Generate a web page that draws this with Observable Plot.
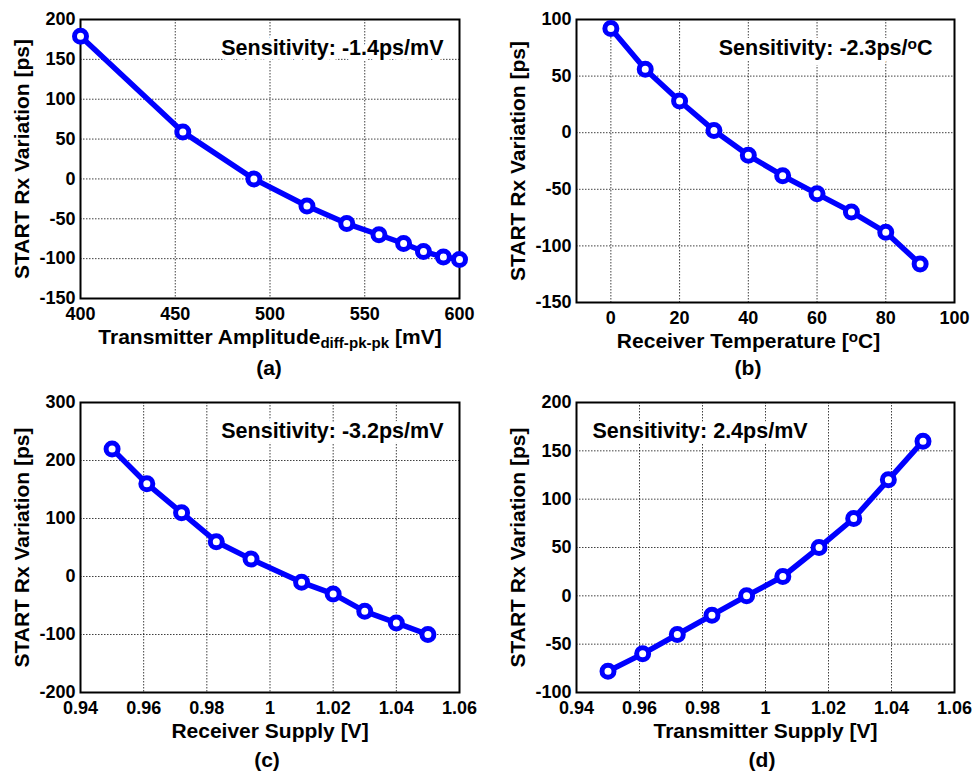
<!DOCTYPE html>
<html><head><meta charset="utf-8">
<script src="https://cdn.jsdelivr.net/npm/d3@7"></script>
<script src="https://cdn.jsdelivr.net/npm/@observablehq/plot@0.6"></script>
<style>
body{margin:0;background:#fff;}
#root{position:relative;width:973px;height:771px;font-family:"Liberation Sans",Arial,sans-serif;color:#000;}
.panel{position:absolute;}
.cap{position:absolute;font:bold 21px "Liberation Sans",Arial,sans-serif;transform:translate(-50%,-50%);white-space:nowrap;}
</style></head><body><div id="root"></div>
<script>
// ---- data ----
const ampX = [400, 454, 491.5, 519.5, 540.5, 557.5, 570.5, 581, 591.5, 600];
const ampY = [179, 59, 0, -34, -56, -70, -81, -91, -98, -101];
const tempX = [0, 10, 20, 30, 40, 50, 60, 70, 80, 90];
const tempY = [92, 56, 28, 2, -20, -38, -54, -70, -88, -116];
const rxSupplyX = [0.95, 0.961, 0.972, 0.983, 0.994, 1.01, 1.02, 1.03, 1.04, 1.05];
const rxSupplyY = [220, 160, 110, 60, 30, -10, -30, -60, -80, -100];
const txSupplyX = [0.95, 0.961, 0.972, 0.983, 0.994, 1.0055, 1.017, 1.028, 1.039, 1.05];
const txSupplyY = [-78, -60, -40, -20, 0, 20, 50, 80, 120, 160];

const ampTicks = [400, 450, 500, 550, 600];
const ampYTicks = [-150, -100, -50, 0, 50, 100, 150, 200];
const tempTicks = [0, 20, 40, 60, 80, 100];
const tempYTicks = [-150, -100, -50, 0, 50, 100];
const supplyTicks = [0.94, 0.96, 0.98, 1.00, 1.02, 1.04, 1.06];
const rxYTicks = [-200, -100, 0, 100, 200, 300];
const txYTicks = [-100, -50, 0, 50, 100, 150, 200];

const yTitle = "START Rx Variation [ps]";
const titles = ["Transmitter Amplitude_{diff-pk-pk} [mV]", "Receiver Temperature [^{o}C]", "Receiver Supply [V]", "Transmitter Supply [V]"];
const sensitivities = ["Sensitivity: -1.4ps/mV", "Sensitivity: -2.3ps/^{o}C", "Sensitivity: -3.2ps/mV", "Sensitivity: 2.4ps/mV"];
const captions = ["(a)", "(b)", "(c)", "(d)"];

const FONT = '"Liberation Sans", Arial, sans-serif';
const BLUE = "#0000ff";

function richify(svg) {
  d3.select(svg).selectAll("text").each(function () {
    const t = this.textContent;
    if (!/[\^_]\{/.test(t)) return;
    const parts = t.split(/([\^_]\{[^}]*\})/);
    const el = d3.select(this);
    el.text(null);
    for (const p of parts) {
      if (!p) continue;
      const m = p.match(/^([\^_])\{([^}]*)\}$/);
      if (m) el.append("tspan").attr("baseline-shift", m[1] === "^" ? "40%" : "-25%").attr("font-size", "72%").text(m[2]);
      else el.append("tspan").text(p);
    }
  });
}

function panel(o) {
  const data = o.xs.map((x, i) => ({x, y: o.ys[i]}));
  const textOpts = {frameAnchor: o.sensAnchor, dx: o.sensDx, dy: 20, text: d => d, fontSize: 21.5, fontWeight: "bold",
    textAnchor: o.sensAnchor === "top-left" ? "start" : "end"};
  const chart = Plot.plot({
    width: o.width, height: o.height,
    marginLeft: o.ml, marginRight: o.mr, marginTop: o.mt, marginBottom: o.mb,
    style: {fontFamily: FONT, fontSize: "18px", fontWeight: "bold", color: "#000", background: "transparent", overflow: "visible"},
    x: {domain: o.xDomain, ticks: o.xTicks, tickFormat: o.xFormat || (d => String(+d.toFixed(2))), tickSize: 0, tickPadding: 9,
        label: o.xLabel, labelAnchor: "center", labelOffset: 45, labelArrow: "none"},
    y: {domain: o.yDomain, ticks: o.yTicks, tickFormat: d => String(d), tickSize: 0, tickPadding: 5,
        label: yTitle, labelAnchor: "center", labelOffset: 66, labelArrow: "none"},
    marks: [
      Plot.gridX(o.xTicks, {stroke: "#000", strokeOpacity: 0.75, strokeWidth: 1, strokeDasharray: "1.5,1.5"}),
      Plot.gridY(o.yTicks, {stroke: "#000", strokeOpacity: 0.75, strokeWidth: 1, strokeDasharray: "1.5,1.5"}),
      Plot.text([o.sens], {...textOpts, fill: "#fff", stroke: "#fff", strokeWidth: 10}),
      Plot.text([o.sens], {...textOpts, fill: "#000"}),
      Plot.frame({stroke: "#000", strokeWidth: 2}),
      Plot.line(data, {x: "x", y: "y", stroke: BLUE, strokeWidth: 5.5, strokeLinejoin: "round"}),
      Plot.dot(data, {x: "x", y: "y", r: 6, fill: "#fff", stroke: BLUE, strokeWidth: 5})
    ]
  });
  d3.select(chart).selectAll('[aria-label="x-axis label"], [aria-label="y-axis label"]').attr("font-size", 21).attr("font-weight", "bold");
  if (o.xLabelShift) {
    const g = d3.select(chart).select('[aria-label="x-axis label"]');
    g.attr("transform", (g.attr("transform") || "") + ` translate(${o.xLabelShift},0)`);
  }
  richify(chart);
  const wrap = document.createElement("div");
  wrap.className = "panel";
  wrap.style.left = o.left + "px";
  wrap.style.top = o.top + "px";
  wrap.appendChild(chart);
  document.getElementById("root").appendChild(wrap);
  const cap = document.createElement("div");
  cap.className = "cap";
  cap.textContent = o.caption;
  cap.style.left = o.capX + "px";
  cap.style.top = o.capY + "px";
  document.getElementById("root").appendChild(cap);
}

panel({xs: ampX, ys: ampY, xDomain: [400, 600], yDomain: [-150, 200], xTicks: ampTicks, yTicks: ampYTicks, xFormat: d => String(d),
  xLabel: titles[0], sens: sensitivities[0], sensAnchor: "top-right", sensDx: -16,
  left: 0, top: 0, width: 486, height: 385, ml: 80, mr: 27, mt: 19, mb: 87, caption: captions[0], capX: 269, capY: 368});
panel({xs: tempX, ys: tempY, xDomain: [-10, 100], yDomain: [-150, 100], xTicks: tempTicks, yTicks: tempYTicks, xFormat: d => String(d),
  xLabel: titles[1], sens: sensitivities[1], sensAnchor: "top-right", sensDx: -22, xLabelShift: -17,
  left: 486, top: 0, width: 487, height: 385, ml: 90, mr: 19, mt: 19, mb: 83, caption: captions[1], capX: 748, capY: 368});
panel({xs: rxSupplyX, ys: rxSupplyY, xDomain: [0.94, 1.06], yDomain: [-200, 300], xTicks: supplyTicks, yTicks: rxYTicks,
  xLabel: titles[2], sens: sensitivities[2], sensAnchor: "top-right", sensDx: -16,
  left: 0, top: 385, width: 486, height: 386, ml: 80, mr: 27, mt: 17, mb: 79, caption: captions[2], capX: 267, capY: 760});
panel({xs: txSupplyX, ys: txSupplyY, xDomain: [0.94, 1.06], yDomain: [-100, 200], xTicks: supplyTicks, yTicks: txYTicks,
  xLabel: titles[3], sens: sensitivities[3], sensAnchor: "top-left", sensDx: 16,
  left: 486, top: 385, width: 487, height: 386, ml: 90, mr: 19, mt: 17, mb: 79, caption: captions[3], capX: 762, capY: 760});
</script>
</body></html>
